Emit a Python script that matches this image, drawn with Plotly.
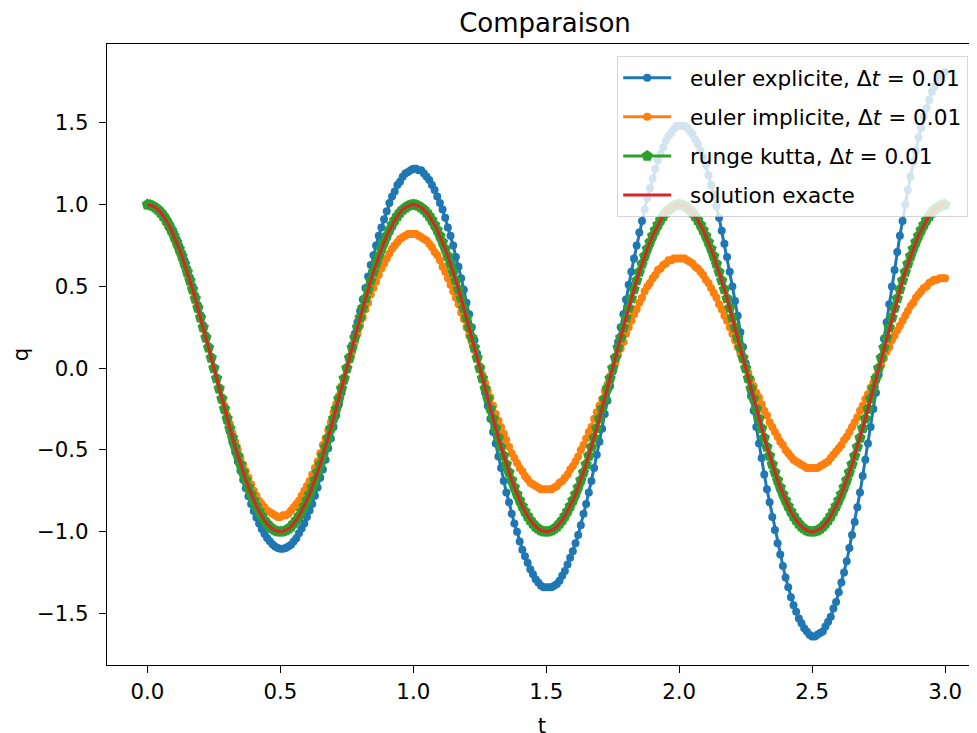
import plotly.graph_objects as go

# === Data (time step dt = 0.01, t from 0 to 3) ===
dt = 0.01

q_explicit = [
    1.0, 1.0, 0.996, 0.988, 0.976, 0.961, 0.941, 0.918, 0.891, 0.86,
    0.826, 0.788, 0.747, 0.703, 0.656, 0.606, 0.554, 0.499, 0.443, 0.384,
    0.323, 0.261, 0.198, 0.133, 0.068, 0.002, -0.064, -0.13, -0.196, -0.261,
    -0.325, -0.389, -0.451, -0.512, -0.57, -0.627, -0.682, -0.734, -0.783, -0.83,
    -0.873, -0.913, -0.95, -0.983, -1.013, -1.038, -1.059, -1.077, -1.09, -1.099,
    -1.104, -1.104, -1.1, -1.091, -1.079,
    -1.06, -1.04, -1.01, -0.98, -0.95, -0.91, -0.87, -0.83, -0.78, -0.73,
    -0.67, -0.62, -0.56, -0.49, -0.43, -0.36, -0.29, -0.22, -0.15, -0.08,
    -0.01, 0.07, 0.14, 0.21, 0.28, 0.35, 0.42, 0.49, 0.56, 0.63,
    0.69, 0.75, 0.81, 0.86, 0.91, 0.96, 1.01, 1.05, 1.08, 1.12,
    1.14, 1.17, 1.19, 1.2, 1.21, 1.22, 1.22, 1.21, 1.21, 1.19,
    1.17, 1.15, 1.12, 1.09, 1.05, 1.01, 0.97, 0.92, 0.86, 0.81,
    0.75, 0.68, 0.62, 0.55, 0.48, 0.4, 0.33, 0.25, 0.17, 0.09,
    0.01, -0.07, -0.15, -0.23, -0.31, -0.39, -0.46, -0.54, -0.61, -0.69,
    -0.76, -0.82, -0.89, -0.95, -1.0, -1.06, -1.11, -1.15, -1.19, -1.23,
    -1.26, -1.29, -1.31, -1.33, -1.34, -1.34, -1.34, -1.34, -1.33, -1.32,
    -1.3, -1.27, -1.24, -1.2, -1.16, -1.12, -1.07, -1.02, -0.96, -0.89,
    -0.83, -0.76, -0.69, -0.61, -0.53, -0.45, -0.37, -0.28, -0.2, -0.11,
    -0.02, 0.07, 0.16, 0.25, 0.33, 0.42, 0.51, 0.59, 0.67, 0.75,
    0.83, 0.9, 0.97, 1.04, 1.1, 1.16, 1.22, 1.27, 1.31, 1.35,
    1.39, 1.42, 1.44, 1.46, 1.48, 1.48, 1.48, 1.48, 1.47, 1.45,
    1.43, 1.4, 1.37, 1.33, 1.29, 1.24, 1.18, 1.12, 1.06, 0.99,
    0.92, 0.84, 0.76, 0.68, 0.59, 0.5, 0.41, 0.32, 0.22, 0.13,
    0.03, -0.07, -0.17, -0.26, -0.36, -0.46, -0.55, -0.65, -0.74, -0.82,
    -0.91, -0.99, -1.07, -1.14, -1.21, -1.28, -1.34, -1.4, -1.45, -1.49,
    -1.53, -1.56, -1.59, -1.61, -1.63, -1.64, -1.64, -1.63, -1.62, -1.61,
    -1.58, -1.55, -1.52, -1.47, -1.43, -1.37, -1.31, -1.25, -1.18, -1.1,
    -1.02, -0.94, -0.85, -0.76, -0.66, -0.56, -0.46, -0.36, -0.25, -0.15,
    -0.04, 0.07, 0.18, 0.28, 0.39, 0.5, 0.6, 0.71, 0.81, 0.9,
    1.0, 1.09, 1.17, 1.26, 1.33, 1.41, 1.47, 1.54, 1.59, 1.64,
    1.69, 1.72, 1.75, 1.78, 1.8, 1.81,
]

q_implicit = [
    1.0, 1.0, 0.99, 0.98, 0.96, 0.94, 0.92, 0.89, 0.86, 0.83,
    0.79, 0.75, 0.71, 0.67, 0.62, 0.57, 0.52, 0.47, 0.41, 0.36,
    0.3, 0.24, 0.18, 0.12, 0.06, 0.0, -0.06, -0.12, -0.18, -0.23,
    -0.29, -0.34, -0.4, -0.45, -0.5, -0.55, -0.59, -0.63, -0.67, -0.71,
    -0.75, -0.78, -0.81, -0.83, -0.85, -0.87, -0.88, -0.89, -0.9, -0.91,
    -0.91, -0.9, -0.9, -0.89, -0.87, -0.85, -0.83, -0.81, -0.78, -0.75,
    -0.72, -0.69, -0.65, -0.61, -0.57, -0.52, -0.47, -0.43, -0.38, -0.33,
    -0.27, -0.22, -0.17, -0.11, -0.06, -0.01, 0.05, 0.1, 0.16, 0.21,
    0.26, 0.31, 0.36, 0.4, 0.45, 0.49, 0.53, 0.57, 0.61, 0.64,
    0.67, 0.7, 0.73, 0.75, 0.77, 0.79, 0.8, 0.81, 0.82, 0.82,
    0.82, 0.82, 0.81, 0.8, 0.79, 0.78, 0.76, 0.74, 0.71, 0.69,
    0.66, 0.62, 0.59, 0.55, 0.51, 0.47, 0.43, 0.39, 0.34, 0.3,
    0.25, 0.2, 0.16, 0.11, 0.06, 0.01, -0.04, -0.09, -0.14, -0.18,
    -0.23, -0.28, -0.32, -0.36, -0.4, -0.44, -0.48, -0.52, -0.55, -0.58,
    -0.61, -0.63, -0.66, -0.68, -0.7, -0.71, -0.72, -0.73, -0.74, -0.74,
    -0.74, -0.74, -0.74, -0.73, -0.72, -0.7, -0.69, -0.67, -0.65, -0.62,
    -0.6, -0.57, -0.54, -0.5, -0.47, -0.43, -0.39, -0.36, -0.31, -0.27,
    -0.23, -0.19, -0.14, -0.1, -0.05, -0.01, 0.03, 0.08, 0.12, 0.16,
    0.21, 0.25, 0.29, 0.33, 0.36, 0.4, 0.43, 0.47, 0.5, 0.52,
    0.55, 0.57, 0.6, 0.61, 0.63, 0.64, 0.66, 0.66, 0.67, 0.67,
    0.67, 0.67, 0.67, 0.66, 0.65, 0.64, 0.62, 0.61, 0.59, 0.57,
    0.54, 0.52, 0.49, 0.46, 0.43, 0.39, 0.36, 0.32, 0.29, 0.25,
    0.21, 0.17, 0.13, 0.09, 0.05, 0.01, -0.03, -0.07, -0.11, -0.15,
    -0.18, -0.22, -0.26, -0.29, -0.33, -0.36, -0.39, -0.42, -0.45, -0.47,
    -0.5, -0.52, -0.54, -0.56, -0.57, -0.58, -0.59, -0.6, -0.61, -0.61,
    -0.61, -0.61, -0.61, -0.6, -0.59, -0.58, -0.57, -0.55, -0.53, -0.51,
    -0.49, -0.47, -0.44, -0.42, -0.39, -0.36, -0.33, -0.3, -0.26, -0.23,
    -0.19, -0.16, -0.12, -0.09, -0.05, -0.01, 0.02, 0.06, 0.1, 0.13,
    0.17, 0.2, 0.23, 0.26, 0.29, 0.32, 0.35, 0.38, 0.4, 0.43,
    0.45, 0.47, 0.49, 0.5, 0.52, 0.53, 0.54, 0.54, 0.55, 0.55,
    0.55,
]

q_rk = [
    1.0, 0.998, 0.992, 0.982, 0.969, 0.951, 0.93, 0.905, 0.876, 0.844, 0.809, 0.771, 0.729, 0.685, 0.637, 0.588, 0.536, 0.482, 0.426, 0.368, 0.309, 0.249, 0.187, 0.125, 0.063, 0.0,
    -0.063, -0.125, -0.187, -0.249, -0.309, -0.368, -0.426, -0.482, -0.536, -0.588, -0.637, -0.685, -0.729, -0.771, -0.809, -0.844, -0.876, -0.905, -0.93, -0.951, -0.969, -0.982, -0.992, -0.998, -1.0,
    -0.998, -0.992, -0.982, -0.969, -0.951, -0.93, -0.905, -0.876, -0.844, -0.809, -0.771, -0.729, -0.685, -0.637, -0.588, -0.536, -0.482, -0.426, -0.368, -0.309, -0.249, -0.187, -0.125, -0.063, 0.0,
    0.063, 0.125, 0.187, 0.249, 0.309, 0.368, 0.426, 0.482, 0.536, 0.588, 0.637, 0.685, 0.729, 0.771, 0.809, 0.844, 0.876, 0.905, 0.93, 0.951, 0.969, 0.982, 0.992, 0.998,
    1.0, 0.998, 0.992, 0.982, 0.969, 0.951, 0.93, 0.905, 0.876, 0.844, 0.809, 0.771, 0.729, 0.685, 0.637, 0.588, 0.536, 0.482, 0.426, 0.368, 0.309, 0.249, 0.187, 0.125, 0.063, 0.0,
    -0.063, -0.125, -0.187, -0.249, -0.309, -0.368, -0.426, -0.482, -0.536, -0.588, -0.637, -0.685, -0.729, -0.771, -0.809, -0.844, -0.876, -0.905, -0.93, -0.951, -0.969, -0.982, -0.992, -0.998, -1.0,
    -0.998, -0.992, -0.982, -0.969, -0.951, -0.93, -0.905, -0.876, -0.844, -0.809, -0.771, -0.729, -0.685, -0.637, -0.588, -0.536, -0.482, -0.426, -0.368, -0.309, -0.249, -0.187, -0.125, -0.063, 0.0,
    0.063, 0.125, 0.187, 0.249, 0.309, 0.368, 0.426, 0.482, 0.536, 0.588, 0.637, 0.685, 0.729, 0.771, 0.809, 0.844, 0.876, 0.905, 0.93, 0.951, 0.969, 0.982, 0.992, 0.998,
    1.0, 0.998, 0.992, 0.982, 0.969, 0.951, 0.93, 0.905, 0.876, 0.844, 0.809, 0.771, 0.729, 0.685, 0.637, 0.588, 0.536, 0.482, 0.426, 0.368, 0.309, 0.249, 0.187, 0.125, 0.063, 0.0,
    -0.063, -0.125, -0.187, -0.249, -0.309, -0.368, -0.426, -0.482, -0.536, -0.588, -0.637, -0.685, -0.729, -0.771, -0.809, -0.844, -0.876, -0.905, -0.93, -0.951, -0.969, -0.982, -0.992, -0.998, -1.0,
    -0.998, -0.992, -0.982, -0.969, -0.951, -0.93, -0.905, -0.876, -0.844, -0.809, -0.771, -0.729, -0.685, -0.637, -0.588, -0.536, -0.482, -0.426, -0.368, -0.309, -0.249, -0.187, -0.125, -0.063, 0.0,
    0.063, 0.125, 0.187, 0.249, 0.309, 0.368, 0.426, 0.482, 0.536, 0.588, 0.637, 0.685, 0.729, 0.771, 0.809, 0.844, 0.876, 0.905, 0.93, 0.951, 0.969, 0.982, 0.992, 0.998,
    1.0,
]

# exact solution q(t) = cos(2*pi*t), same grid; RK4 matches it to the digits shown
q_exact = list(q_rk)

labels = [
    "euler explicite, Δ<i>t</i> = 0.01",
    "euler implicite, Δ<i>t</i> = 0.01",
    "runge kutta, Δ<i>t</i> = 0.01",
    "solution exacte",
]


def grid(values):
    return [round(i * dt, 2) for i in range(len(values))]


FONT = "DejaVu Sans"
FS = 21.3
PAD = "\u00a0\u00a0"  # gap between legend handle and text

# === Figure ===
fig = go.Figure()
fig.add_trace(go.Scatter(x=grid(q_explicit), y=q_explicit, mode="lines+markers", name=PAD + labels[0],
                         line=dict(color="#1f77b4", width=3), marker=dict(size=8, line_width=0),
                         legendgroup="a"))
fig.add_trace(go.Scatter(x=grid(q_implicit), y=q_implicit, mode="lines+markers", name=PAD + labels[1],
                         line=dict(color="#ff7f0e", width=3), marker=dict(size=8, line_width=0),
                         legendgroup="b"))
fig.add_trace(go.Scatter(x=grid(q_rk), y=q_rk, mode="lines+markers", name=PAD + labels[2],
                         line=dict(color="#2ca02c", width=3),
                         marker=dict(size=12, symbol="pentagon", line_width=0), legendgroup="c"))
fig.add_trace(go.Scatter(x=grid(q_exact), y=q_exact, mode="lines", name=PAD + labels[3],
                         line=dict(color="#d62728", width=3), legendgroup="d"))

# === Layout ===
# the page adds an 8px body margin, so the figure is laid out 8px up/left
axis = dict(showline=True, mirror=True, linecolor="black", linewidth=1.2, ticks="outside",
            ticklen=7, tickwidth=1.2, tickcolor="black", showgrid=False, zeroline=False,
            tickfont=dict(family=FONT, size=FS, color="black"),
            tickformat=".1f", dtick=0.5, tick0=0, automargin=False)
fig.update_layout(
    width=977, height=733,
    margin=dict(l=99, r=8, t=36, b=76, autoexpand=False),
    plot_bgcolor="white", paper_bgcolor="white",
    title=dict(text="Comparaison", x=537 / 977, xref="container", xanchor="center",
               y=1 - 15 / 733, yref="container", yanchor="middle",
               font=dict(family=FONT, size=26, color="black")),
    xaxis=dict(axis, range=[-0.152, 3.120], ticklabelstandoff=0,
               title=dict(text="t", font=dict(family=FONT, size=FS, color="black"), standoff=15)),
    yaxis=dict(axis, range=[-1.815, 1.982], ticklabelstandoff=6,
               title=dict(text="q", font=dict(family=FONT, size=FS, color="black"), standoff=7)),
    legend=dict(x=(609 - 99) / 870, y=(657 - 48) / 621, xanchor="left", yanchor="top",
                bgcolor="rgba(255,255,255,0.8)", bordercolor="rgba(204,204,204,0.8)",
                borderwidth=1.2, font=dict(family=FONT, size=21.6, color="black"),
                tracegroupgap=8, itemwidth=48),
)

fig.write_html("out.html")
